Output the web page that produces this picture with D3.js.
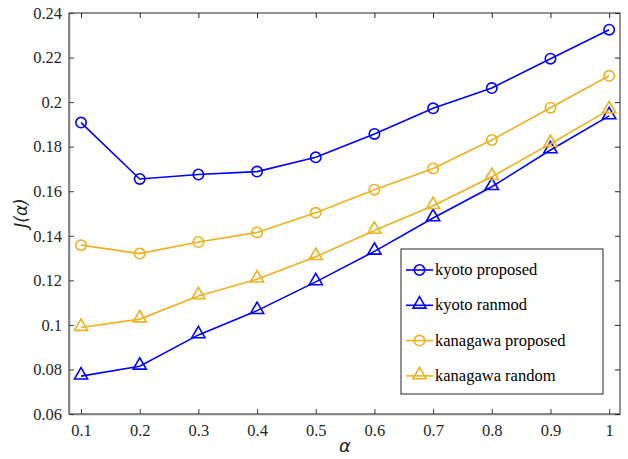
<!DOCTYPE html>
<html>
<head>
<meta charset="utf-8">
<script src="https://cdn.jsdelivr.net/npm/d3@7"></script>
<style>
  body { margin: 0; background: #fff; }
  svg text { font-family: "Times New Roman", "Liberation Serif", Times, serif; }
</style>
</head>
<body>
<script>
const w = 628;
const h = 459;

const alphas = [0.1, 0.2, 0.3, 0.4, 0.5, 0.6, 0.7, 0.8, 0.9, 1.0];
const kyotoProposed = [0.1908, 0.1655, 0.1675, 0.1688, 0.1752, 0.1857, 0.1972, 0.2063, 0.2195, 0.2325];
const kyotoRandom = [0.0770, 0.0814, 0.0955, 0.1064, 0.1193, 0.1330, 0.1480, 0.1620, 0.1785, 0.1938];
const kanagawaProposed = [0.1358, 0.1320, 0.1372, 0.1415, 0.1503, 0.1607, 0.1702, 0.1830, 0.1975, 0.2118];
const kanagawaRandom = [0.0988, 0.1026, 0.1130, 0.1205, 0.1306, 0.1424, 0.1535, 0.1665, 0.1813, 0.1965];
const xTicks = [0.1, 0.2, 0.3, 0.4, 0.5, 0.6, 0.7, 0.8, 0.9, 1];
const yTicks = [0.06, 0.08, 0.1, 0.12, 0.14, 0.16, 0.18, 0.2, 0.22, 0.24];

const series = [
  {name: "kyoto proposed", values: kyotoProposed, color: "#0000ff", marker: "circle"},
  {name: "kyoto ranmod", values: kyotoRandom, color: "#0000ff", marker: "triangle"},
  {name: "kanagawa proposed", values: kanagawaProposed, color: "#EDB120", marker: "circle"},
  {name: "kanagawa random", values: kanagawaRandom, color: "#EDB120", marker: "triangle"}
];

const padLeft = 69, padRight = 620, padTop = 13, padBottom = 414;
const serif = "'Times New Roman', 'Liberation Serif', serif";

const xScale = d3.scaleLinear().domain([0.0795, 1.0185]).range([padLeft, padRight]);
const yScale = d3.scaleLinear().domain([0.06, 0.24]).range([padBottom, padTop]);

const svg = d3.select("body").append("svg")
  .attr("width", w).attr("height", h);

// frame
svg.append("rect")
  .attr("x", padLeft).attr("y", padTop)
  .attr("width", padRight - padLeft).attr("height", padBottom - padTop)
  .attr("fill", "none").attr("stroke", "#262626").attr("stroke-width", 1);

const fmt = d => d3.format("")(+d.toFixed(2));

const xAxis = d3.axisBottom(xScale).tickValues(xTicks).tickSizeInner(-5).tickSizeOuter(0).tickPadding(10).tickFormat(fmt);
const yAxis = d3.axisLeft(yScale).tickValues(yTicks).tickSizeInner(-5).tickSizeOuter(0).tickPadding(7).tickFormat(fmt);

function styleAxis(g) {
  g.attr("font-family", serif);
  g.select(".domain").attr("stroke", "#808080").attr("stroke-width", 1.5);
  g.selectAll(".tick line").attr("stroke", "#404040");
  g.selectAll(".tick text").attr("fill", "#262626").style("font-size", "16.5px");
}

svg.append("g").attr("id", "x-axis")
  .attr("transform", "translate(0," + padBottom + ")")
  .call(xAxis).call(styleAxis);

svg.append("g").attr("id", "y-axis")
  .attr("transform", "translate(" + padLeft + ",0)")
  .call(yAxis).call(styleAxis);

// top and right ticks
svg.append("g").attr("transform", "translate(0," + padTop + ")")
  .call(d3.axisTop(xScale).tickValues(xTicks).tickSizeInner(-5).tickSizeOuter(0).tickFormat(""))
  .call(g => { g.select(".domain").remove(); g.selectAll("line").attr("stroke", "#262626"); });
svg.append("g").attr("transform", "translate(" + padRight + ",0)")
  .call(d3.axisRight(yScale).tickValues(yTicks).tickSizeInner(-5).tickSizeOuter(0).tickFormat(""))
  .call(g => { g.select(".domain").remove(); g.selectAll("line").attr("stroke", "#262626"); });

const circleSym = d3.symbol().type(d3.symbolCircle).size(85);
const triSym = d3.symbol().type(d3.symbolTriangle).size(75);

const line = d3.line().x((d, i) => xScale(alphas[i])).y(d => yScale(d));

function drawMarker(g, s, x, y) {
  g.append("path")
    .attr("d", s.marker === "circle" ? circleSym() : triSym())
    .attr("transform", "translate(" + x + "," + (s.marker === "circle" ? y : y - 1) + ")")
    .attr("fill", "none").attr("stroke", s.color).attr("stroke-width", 1.6);
}

series.forEach(s => {
  svg.append("path").datum(s.values)
    .attr("d", line).attr("fill", "none")
    .attr("stroke", s.color).attr("stroke-width", 1.6);
  const g = svg.append("g");
  s.values.forEach((v, i) => drawMarker(g, s, xScale(alphas[i]), yScale(v)));
});

// legend
const legend = svg.append("g");
legend.append("rect")
  .attr("x", 401).attr("y", 249).attr("width", 202).attr("height", 145)
  .attr("fill", "#fff").attr("stroke", "#262626").attr("stroke-width", 1);
series.forEach((s, i) => {
  const y = 270 + i * 35.3;
  legend.append("line").attr("x1", 406).attr("x2", 433).attr("y1", y).attr("y2", y)
    .attr("stroke", s.color).attr("stroke-width", 1.6);
  drawMarker(legend, s, 419.5, y);
  legend.append("text").attr("x", 435).attr("y", y + 5)
    .attr("fill", "#000").style("font-family", serif).style("font-size", "16.5px").text(s.name);
});

// axis labels
svg.append("text")
  .attr("x", 345).attr("y", 452)
  .attr("text-anchor", "middle")
  .style("font-family", "'DejaVu Sans', sans-serif").style("font-style", "italic")
  .style("font-size", "18px").attr("fill", "#262626")
  .text("α");

svg.append("text")
  .attr("transform", "translate(27,213) rotate(-90)")
  .attr("text-anchor", "middle")
  .style("font-family", "'DejaVu Sans', sans-serif").style("font-style", "italic")
  .style("font-size", "17px").attr("fill", "#262626")
  .text("J(α)");
</script>
</body>
</html>
